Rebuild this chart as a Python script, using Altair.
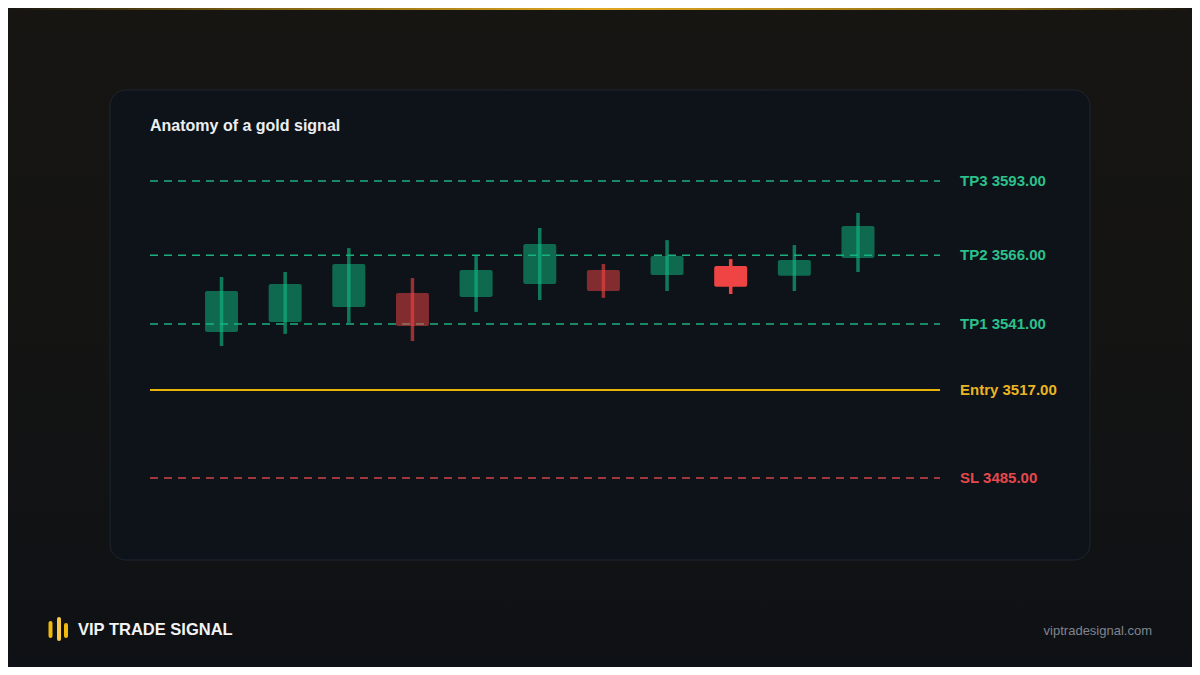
import altair as alt
import pandas as pd

# ---- data ----
candle_idx = list(range(11))
opens  = [3538.1, 3541.7, 3547.2, 3552.3, 3550.8, 3555.5, 3560.6, 3558.8, 3562.1, 3558.5, 3565.0]
closes = [3553.0, 3555.5, 3562.8, 3540.3, 3560.6, 3570.1, 3553.0, 3565.7, 3554.5, 3564.3, 3576.6]
highs  = [3558.1, 3559.9, 3568.6, 3557.7, 3565.7, 3575.9, 3562.8, 3571.5, 3564.6, 3569.7, 3581.4]
lows   = [3533.0, 3537.4, 3541.4, 3534.8, 3545.4, 3549.7, 3550.5, 3553.0, 3551.9, 3553.0, 3559.9]

level_names  = ["TP3", "TP2", "TP1", "Entry", "SL"]
level_prices = [3593, 3566, 3541, 3517, 3485]

title_text = "Anatomy of a gold signal"
brand_text = "VIP TRADE SIGNAL"
url_text = "viptradesignal.com"

# ---- styling ----
CARD = "#0e131a"
CARD_BORDER = "#1f2630"
GREEN = "#10b981"
RED = "#ef4444"
GOLD = "#eab308"
FONT = "Liberation Sans"

candles = pd.DataFrame({"i": candle_idx, "open": opens, "close": closes,
                        "high": highs, "low": lows})
levels = pd.DataFrame({"name": level_names, "price": level_prices})

xs = alt.Scale(domain=[-1.752, 13.645], nice=False, zero=False, padding=0)
ys = alt.Scale(domain=[3455.18, 3626.09], nice=False, zero=False, padding=0)

one = pd.DataFrame({"k": [0]})

# page background (vertical gradient) and the card
page_bg = alt.Chart(one).mark_rect(
    fill=alt.LinearGradient(
        gradient="linear", x1=0, x2=0, y1=0, y2=1,
        stops=[alt.GradientStop(color="#161512", offset=0),
               alt.GradientStop(color="#141413", offset=0.45),
               alt.GradientStop(color="#111214", offset=0.8),
               alt.GradientStop(color="#0e1115", offset=1)]
    )
).encode(x=alt.value(-102), x2=alt.value(1082), y=alt.value(-82), y2=alt.value(577))

top_line = alt.Chart(one).mark_rect(
    fill=alt.LinearGradient(
        gradient="linear", x1=0, x2=1, y1=0, y2=0,
        stops=[alt.GradientStop(color="#161512", offset=0),
               alt.GradientStop(color="#7a5e12", offset=0.2),
               alt.GradientStop(color="#e0a820", offset=0.5),
               alt.GradientStop(color="#8a6a12", offset=0.85),
               alt.GradientStop(color="#161512", offset=1)]
    )
).encode(x=alt.value(-102), x2=alt.value(1082), y=alt.value(-82), y2=alt.value(-80))

card = alt.Chart(one).mark_rect(
    fill=CARD, stroke=CARD_BORDER, strokeWidth=1, cornerRadius=16
).encode(x=alt.value(0), x2=alt.value(980), y=alt.value(0), y2=alt.value(470))

up = "datum.close >= datum.open"
hl = "datum.i == 8"

bodies = alt.Chart(candles).mark_bar(size=33, cornerRadius=2).encode(
    x=alt.X("i:Q", scale=xs, axis=None),
    y=alt.Y("open:Q", scale=ys, axis=None),
    y2="close:Q",
    color=alt.condition(up, alt.value(GREEN), alt.value(RED)),
    opacity=alt.condition(hl, alt.value(1.0), alt.value(0.52)),
)

wicks = alt.Chart(candles).mark_rule(strokeWidth=3.5).encode(
    x=alt.X("i:Q", scale=xs, axis=None),
    y=alt.Y("low:Q", scale=ys, axis=None),
    y2="high:Q",
    color=alt.condition(up, alt.value(GREEN), alt.value(RED)),
    opacity=alt.condition(hl, alt.value(1.0), alt.value(0.62)),
)

level_base = alt.Chart(levels).transform_calculate(
    lc="datum.name == 'Entry' ? '#eab308' : (datum.name == 'SL' ? '#e5484d' : '#20c08a')",
    tc="datum.name == 'Entry' ? '#e9b523' : (datum.name == 'SL' ? '#e5484d' : '#2cc08b')",
    label="datum.name + ' ' + format(datum.price, '.2f')",
)

dashed = level_base.transform_filter("datum.name != 'Entry'").mark_rule(
    strokeWidth=1.7, strokeDash=[8, 6], opacity=0.9
).encode(
    x=alt.value(40), x2=alt.value(830),
    y=alt.Y("price:Q", scale=ys, axis=None),
    color=alt.Color("lc:N", scale=None, legend=None),
)

solid = level_base.transform_filter("datum.name == 'Entry'").mark_rule(
    strokeWidth=2
).encode(
    x=alt.value(40), x2=alt.value(830),
    y=alt.Y("price:Q", scale=ys, axis=None),
    color=alt.Color("lc:N", scale=None, legend=None),
)

labels = level_base.mark_text(
    align="left", baseline="middle", font=FONT, fontSize=15, fontWeight="bold"
).encode(
    x=alt.value(850),
    y=alt.Y("price:Q", scale=ys, axis=None),
    text="label:N",
    color=alt.Color("tc:N", scale=None, legend=None),
)

title = alt.Chart(pd.DataFrame({"t": [title_text]})).mark_text(
    align="left", baseline="middle", font=FONT, fontSize=16, fontWeight="bold",
    color="#eceef1"
).encode(x=alt.value(40), y=alt.value(36), text="t:N")

brand = alt.Chart(pd.DataFrame({"t": [brand_text]})).mark_text(
    align="left", baseline="middle", font=FONT, fontSize=16.5, fontWeight="bold",
    color="#f2f3f5"
).encode(x=alt.value(-32), y=alt.value(540), text="t:N")

url = alt.Chart(pd.DataFrame({"t": [url_text]})).mark_text(
    align="right", baseline="middle", font=FONT, fontSize=13,
    color="#80858d"
).encode(x=alt.value(1042), y=alt.value(541), text="t:N")


def logo_bar(xv, y1, y2, col):
    return alt.Chart(one).mark_rule(
        strokeWidth=4, strokeCap="round", color=col
    ).encode(x=alt.value(xv), y=alt.value(y1), y2=alt.value(y2))


logo = logo_bar(-59.5, 533, 546, "#f0b90b") + logo_bar(-51, 529, 549, "#f6c94a") + \
    logo_bar(-44, 535, 546, "#f0b90b")

chart = alt.layer(
    page_bg, top_line, card, dashed, solid, bodies, wicks, labels, title, brand, url, logo
).properties(
    width=980, height=470,
    padding={"left": 102, "top": 82, "right": 102, "bottom": 107},
    autosize=alt.AutoSizeParams(type="none"),
    background="#131312",
).configure_view(
    fill=None, stroke=None
)

chart.save("out.html", embed_options={"renderer": "svg", "actions": False})
